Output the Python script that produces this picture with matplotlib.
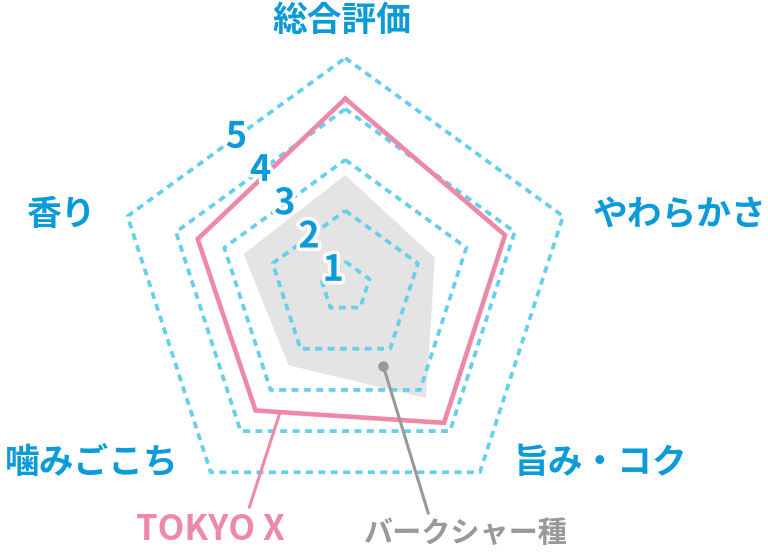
import numpy as np
import matplotlib
matplotlib.use("Agg")
import matplotlib.pyplot as plt
import matplotlib.patheffects as pe

plt.rcParams['font.family'] = ['Noto Sans CJK JP', 'DejaVu Sans']

# data
categories = ['総合評価', 'やわらかさ', '旨み・コク', '噛みごこち', '香り']
tokyo_x = [4.2, 3.8, 3.8, 3.5, 3.55]
berkshire = [2.7, 2.35, 3.2, 2.4, 2.6]
levels = [1, 2, 3, 4, 5]
series_names = ['TOKYO X', 'バークシャー種']

blue_text = '#0b9bd8'
grid_blue = '#66cfee'
pink = '#ee88a8'
grey_fill = '#e4e4e4'
grey_line = '#999999'

W, H = 768, 556
cx, cy = 345.3, 287.0      # centre in pixels (from top)
R = 229.0                  # radius of level 5 in pixels
r0 = 0.5                   # value at the centre

fig = plt.figure(figsize=(W / 100, H / 100), dpi=100)
ax = fig.add_axes([(cx - R) / W, (H - cy - R) / H, 2 * R / W, 2 * R / H],
                  projection='polar')
ax.set_theta_offset(np.pi / 2)
ax.set_theta_direction(-1)
ax.set_ylim(r0, 5)
ax.set_xticks([])
ax.set_yticks([])
ax.grid(False)
ax.spines['polar'].set_visible(False)
ax.patch.set_alpha(0)

n = len(categories)
theta = np.arange(n) * 2 * np.pi / n
theta_c = np.append(theta, theta[0])

# dotted grid pentagons
for lv in levels:
    ax.plot(theta_c, [lv] * (n + 1), color=grid_blue, lw=2.7,
            dashes=(1.85, 1.45), clip_on=False, zorder=2)

# Berkshire filled area
b = np.append(berkshire, berkshire[0])
ax.fill(theta_c, b, color=grey_fill, lw=0, zorder=1)

# TOKYO X outline
t = np.append(tokyo_x, tokyo_x[0])
ax.plot(theta_c, t, color=pink, lw=3.3, solid_joinstyle='miter', zorder=3,
        clip_on=False)

# level numbers along the bisector between 香り and 総合評価
bis = theta[-1] + np.pi / n
for lv in levels:
    rr = r0 + np.cos(np.pi / n) * (lv - r0)
    ax.text(bis, rr, str(lv), color=blue_text, fontsize=26, fontweight='bold',
            ha='center', va='center', zorder=5,
            path_effects=[pe.withStroke(linewidth=5, foreground='white')])

# category labels (pixel centres)
label_pos = [(342, 21), (680, 214), (600, 462), (92, 462), (61, 214)]
for name, (x, y) in zip(categories, label_pos):
    fig.text(x / W, 1 - y / H, name, color=blue_text, fontsize=25,
             fontweight='bold', ha='center', va='center')


def to_xy(th, r):
    return np.array([(r - r0) * np.sin(th), (r - r0) * np.cos(th)])


def to_polar(p):
    th = np.arctan2(p[0], p[1])
    return th, np.hypot(p[0], p[1]) + r0


# leader for TOKYO X: from the lower edge of its outline
p_a = to_xy(theta[3], tokyo_x[3])
p_b = to_xy(theta[2], tokyo_x[2])
anchor_t = to_polar(p_a + 0.13 * (p_b - p_a))
ax.annotate('', xy=anchor_t, xycoords='data',
            xytext=(249.3, H - 507.3), textcoords='figure pixels',
            arrowprops=dict(arrowstyle='-', color=pink, lw=2.2,
                            shrinkA=0, shrinkB=0), annotation_clip=False)
fig.text(210 / W, 1 - 529 / H, series_names[0], color=pink, fontsize=25,
         fontweight='bold', ha='center', va='center')

# leader for Berkshire: from a dot inside the grey area
anchor_b = (np.deg2rad(154.3), 2.22)
ax.plot([anchor_b[0]], [anchor_b[1]], 'o', color=grey_line, ms=6.5, zorder=4)
ax.annotate('', xy=anchor_b, xycoords='data',
            xytext=(428.3, H - 513.3), textcoords='figure pixels',
            arrowprops=dict(arrowstyle='-', color=grey_line, lw=2.2,
                            shrinkA=0, shrinkB=0), annotation_clip=False)
fig.text(466 / W, 1 - 533 / H, series_names[1], color=grey_line, fontsize=21,
         fontweight='bold', ha='center', va='center')

fig.savefig('out.png', dpi=100)
